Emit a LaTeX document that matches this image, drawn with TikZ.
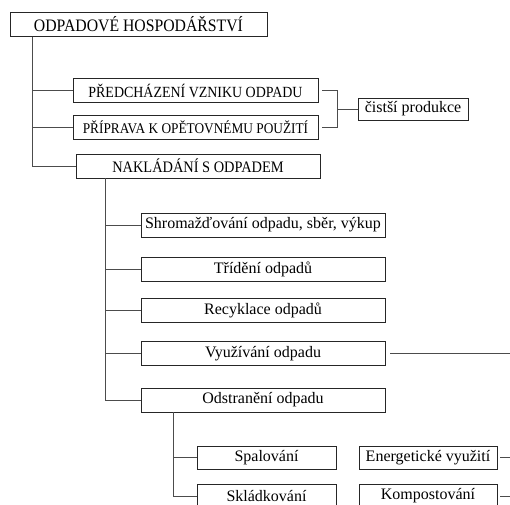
\documentclass[tikz,border=0pt]{standalone}
\usepackage{fontspec}
\setmainfont{Liberation Serif}
\newfontfamily\capfont[FakeStretch=0.9]{Liberation Serif}
\begin{document}
\begin{tikzpicture}[x=1pt,y=-1pt,
  box/.style={draw=black!85, line width=0.8pt, inner sep=0pt, minimum height=24pt, font=\capfont\fontsize{15.5}{17}\selectfont},
  lbox/.style={box, font=\rmfamily\fontsize{16}{18}\selectfont},
  conn/.style={draw=black!70, line width=0.8pt}]
\useasboundingbox (0,0) rectangle (510,504);
% boxes
\node[box, minimum width=257pt, font=\capfont\fontsize{17.5}{19}\selectfont] (top) at (138.5,24.5) {ODPADOVÉ HOSPODÁŘSTVÍ};
\node[box, minimum width=245pt] (pred) at (195.5,90.5) {PŘEDCHÁZENÍ VZNIKU ODPADU};
\node[box, minimum width=245pt, font=\capfont\fontsize{14.8}{16}\selectfont] (prip) at (195.5,127) {PŘÍPRAVA K OPĚTOVNÉMU POUŽITÍ};
\node[lbox, minimum width=110pt, minimum height=22pt] (cist) at (413,109) {čistší produkce};
\node[box, minimum width=244pt, font=\capfont\fontsize{16}{17}\selectfont] (nakl) at (198,166) {NAKLÁDÁNÍ S ODPADEM};
\node[lbox, minimum width=244pt] (shrom) at (263,225) {Shromažďování odpadu, sběr, výkup};
\node[lbox, minimum width=244pt] (trid) at (263,269) {Třídění odpadů};
\node[lbox, minimum width=244pt] (recy) at (263,310) {Recyklace odpadů};
\node[lbox, minimum width=244pt] (vyuz) at (263,353.5) {Využívání odpadu};
\node[lbox, minimum width=244pt] (odst) at (263,400) {Odstranění odpadu};
\node[lbox, minimum width=139pt, minimum height=23pt] (spal) at (266.5,457.5) {Spalování};
\node[lbox, minimum width=139pt, minimum height=23pt] (skla) at (266.5,496) {Skládkování};
\node[lbox, minimum width=138pt, minimum height=23pt] (ener) at (428,457.5) {Energetické využití};
\node[lbox, minimum width=138pt, minimum height=23pt, anchor=north] (komp) at (428,484) {Kompostování};
% connectors
\coordinate (t1) at (32,0);
\path[conn] (top.south -| t1) |- (pred.west);
\path[conn] (top.south -| t1) |- (prip.west);
\path[conn] (top.south -| t1) |- (nakl.west);
\coordinate (b1) at (337,0);
\path[conn] ([xshift=4pt]pred.east) -- (pred.east -| b1) |- ([xshift=4pt]prip.east);
\coordinate (bm) at (337,109);
\path[conn] (bm) -- (cist.west);
\coordinate (n1) at (105,0);
\path[conn] (nakl.south -| n1) |- (shrom.west);
\path[conn] (nakl.south -| n1) |- (trid.west);
\path[conn] (nakl.south -| n1) |- (recy.west);
\path[conn] (nakl.south -| n1) |- (vyuz.west);
\path[conn] (nakl.south -| n1) |- (odst.west);
\coordinate (vr) at (510,353.5);
\path[conn] ([xshift=5pt]vyuz.east) -- (vr);
\coordinate (o1) at (173,0);
\path[conn] (odst.south -| o1) |- (spal.west);
\path[conn] (odst.south -| o1) |- (skla.west);
\coordinate (er) at (510,457.5);
\coordinate (kr) at (510,496);
\path[conn] ([xshift=3pt]ener.east) -- (er);
\path[conn] ([xshift=3pt]komp.east |- kr) -- (kr);
\end{tikzpicture}
\end{document}
